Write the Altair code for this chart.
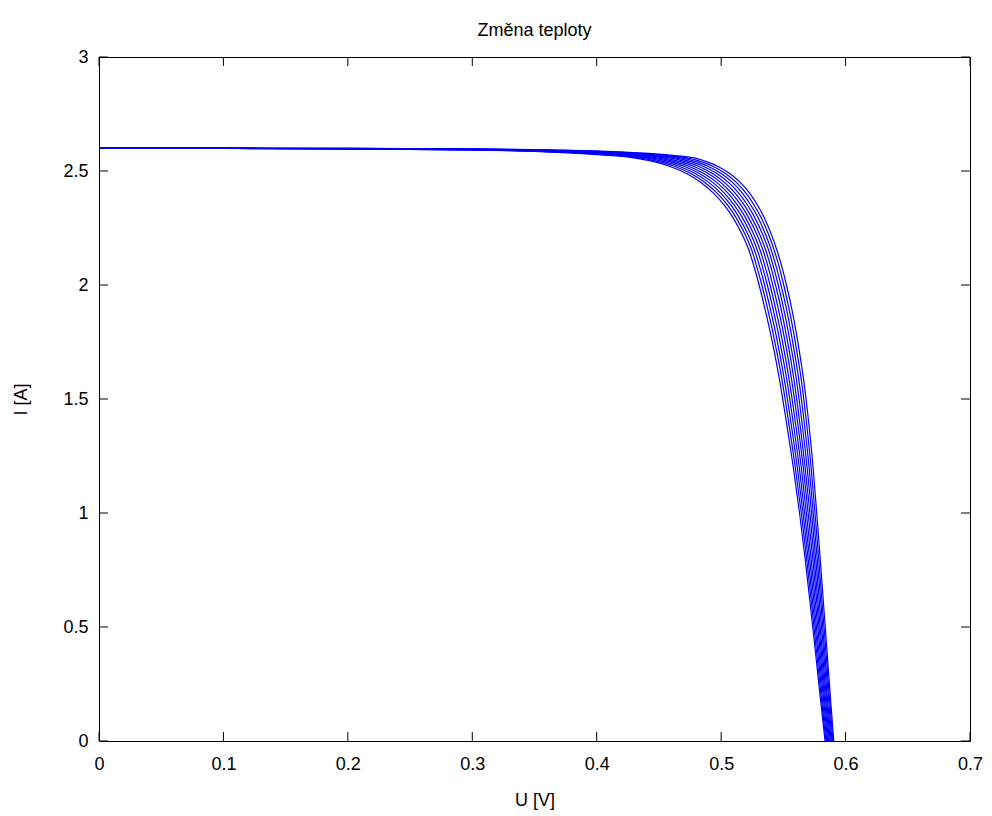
import altair as alt
import pandas as pd

# --- data (U in volts, I in amperes), curves ordered outer -> inner ---
# flat part: shared voltage grid, one current list per curve
u_flat = [0.0, 0.1, 0.2, 0.3, 0.35, 0.4]
i_flat_curves = [
    [2.600, 2.600, 2.599, 2.5970, 2.5940, 2.5880],
    [2.600, 2.600, 2.599, 2.5965, 2.5932, 2.5864],
    [2.600, 2.600, 2.599, 2.5960, 2.5924, 2.5848],
    [2.600, 2.600, 2.598, 2.5955, 2.5916, 2.5832],
    [2.600, 2.600, 2.598, 2.5950, 2.5908, 2.5816],
    [2.600, 2.599, 2.598, 2.5945, 2.5900, 2.5800],
    [2.600, 2.599, 2.598, 2.5940, 2.5892, 2.5784],
    [2.600, 2.599, 2.598, 2.5935, 2.5884, 2.5768],
    [2.600, 2.599, 2.597, 2.5930, 2.5876, 2.5752],
    [2.600, 2.599, 2.597, 2.5925, 2.5868, 2.5736],
    [2.600, 2.599, 2.597, 2.5920, 2.5860, 2.5720],
]
# knee and steep part: shared current grid, one voltage list per curve
i_steep = [2.56, 2.54, 2.52, 2.49, 2.45, 2.40, 2.35, 2.30, 2.22, 2.15, 2.07, 2.00,
           1.90, 1.80, 1.70, 1.60, 1.40, 1.20, 1.00, 0.80, 0.60, 0.40, 0.20, 0.00]
u_steep_curves = [
    [.4757, .4889, .4975, .5067, .5154, .5233, .5293, .5342, .5405, .5450, .5493, .5525, .5566, .5601, .5631, .5659, .5703, .5739, .5768, .5796, .5823, .5850, .5877, .5905],
    [.4708, .4847, .4937, .5032, .5122, .5204, .5266, .5317, .5382, .5428, .5471, .5503, .5544, .5580, .5611, .5640, .5685, .5723, .5754, .5784, .5812, .5841, .5869, .5898],
    [.4659, .4804, .4898, .4997, .5091, .5175, .5239, .5292, .5358, .5405, .5448, .5481, .5523, .5559, .5591, .5620, .5667, .5707, .5740, .5772, .5802, .5831, .5861, .5891],
    [.4610, .4762, .4860, .4962, .5059, .5146, .5213, .5266, .5335, .5383, .5426, .5459, .5501, .5538, .5571, .5601, .5649, .5691, .5727, .5760, .5791, .5822, .5852, .5884],
    [.4561, .4720, .4821, .4927, .5027, .5117, .5186, .5241, .5311, .5360, .5404, .5437, .5480, .5517, .5551, .5581, .5631, .5675, .5713, .5748, .5780, .5812, .5844, .5877],
    [.4512, .4678, .4783, .4893, .4996, .5089, .5159, .5216, .5288, .5338, .5382, .5415, .5458, .5497, .5531, .5562, .5614, .5660, .5699, .5736, .5770, .5803, .5836, .5870],
    [.4463, .4635, .4744, .4858, .4964, .5060, .5132, .5191, .5264, .5315, .5359, .5393, .5436, .5476, .5510, .5542, .5596, .5644, .5685, .5723, .5759, .5794, .5828, .5863],
    [.4414, .4593, .4706, .4823, .4932, .5031, .5105, .5166, .5241, .5293, .5337, .5371, .5415, .5455, .5490, .5523, .5578, .5628, .5671, .5711, .5748, .5784, .5820, .5856],
    [.4365, .4551, .4667, .4788, .4900, .5002, .5079, .5140, .5217, .5270, .5315, .5349, .5393, .5434, .5470, .5503, .5560, .5612, .5658, .5699, .5737, .5775, .5811, .5849],
    [.4316, .4508, .4629, .4753, .4869, .4973, .5052, .5115, .5194, .5248, .5292, .5327, .5372, .5413, .5450, .5484, .5542, .5596, .5644, .5687, .5727, .5765, .5803, .5842],
    [.4267, .4466, .4590, .4718, .4837, .4944, .5025, .5090, .5170, .5225, .5270, .5305, .5350, .5392, .5430, .5464, .5524, .5580, .5630, .5675, .5716, .5756, .5795, .5835],
]
x_ticks = [0.0, 0.1, 0.2, 0.3, 0.4, 0.5, 0.6, 0.7]
y_ticks = [0.0, 0.5, 1.0, 1.5, 2.0, 2.5, 3.0]

rows = []
for k in range(len(i_flat_curves)):
    seq = 0
    for u, i in zip(u_flat, i_flat_curves[k]):
        rows.append({"curve": k, "seq": seq, "U": u, "I": i})
        seq += 1
    for u, i in zip(u_steep_curves[k], i_steep):
        rows.append({"curve": k, "seq": seq, "U": u, "I": i})
        seq += 1
df = pd.DataFrame(rows)
xt = pd.DataFrame({"U": x_ticks})
yt = pd.DataFrame({"I": y_ticks})

W, H = 871, 684
TL = 9
FONT = "Liberation Sans"
xs = alt.Scale(domain=[0, 0.7], nice=False, zero=False)
ys = alt.Scale(domain=[0, 3], nice=False, zero=False)

xaxis = alt.Axis(values=x_ticks, format=".1~f", title="U [V]", grid=False, ticks=False, domain=False,
                 labelFlush=False, labelPadding=14, titlePadding=18, labelFont=FONT, labelFontSize=18,
                 labelColor="black", titleFont=FONT, titleFontSize=18, titleFontWeight="normal",
                 titleColor="black")
yaxis = alt.Axis(values=y_ticks, format=".1~f", title="I [A]", grid=False, ticks=False, domain=False,
                 labelFlush=False, labelPadding=11, titlePadding=32, labelFont=FONT, labelFontSize=18,
                 labelColor="black", titleFont=FONT, titleFontSize=18, titleFontWeight="normal",
                 titleColor="black")

X = alt.X("U:Q", scale=xs, axis=xaxis)
Y = alt.Y("I:Q", scale=ys, axis=yaxis)

lines = alt.Chart(df).mark_line(color="#0000ff", strokeWidth=1.2, interpolate="monotone", clip=True).encode(
    x=X, y=Y, detail="curve:N", order="seq:Q")

bottom_ticks = alt.Chart(xt).mark_rule(color="black", strokeWidth=1).encode(
    x=X, y=alt.value(H), y2=alt.value(H - TL))
top_ticks = alt.Chart(xt).mark_rule(color="black", strokeWidth=1).encode(
    x=X, y=alt.value(0), y2=alt.value(TL))
left_ticks = alt.Chart(yt).mark_rule(color="black", strokeWidth=1).encode(
    y=Y, x=alt.value(0), x2=alt.value(TL))
right_ticks = alt.Chart(yt).mark_rule(color="black", strokeWidth=1).encode(
    y=Y, x=alt.value(W), x2=alt.value(W - TL))

chart = alt.layer(lines, bottom_ticks, top_ticks, left_ticks, right_ticks).properties(
    width=W, height=H,
    title=alt.TitleParams("Změna teploty", font=FONT, fontSize=18, fontWeight="normal",
                          color="black", anchor="middle", offset=8),
    padding={"left": 91, "top": 49, "right": 14, "bottom": 72},
    autosize=alt.AutoSizeParams(type="none"),
).configure_view(stroke="black", strokeWidth=1)

chart.save("out.html", embed_options={"renderer": "svg", "actions": False})
